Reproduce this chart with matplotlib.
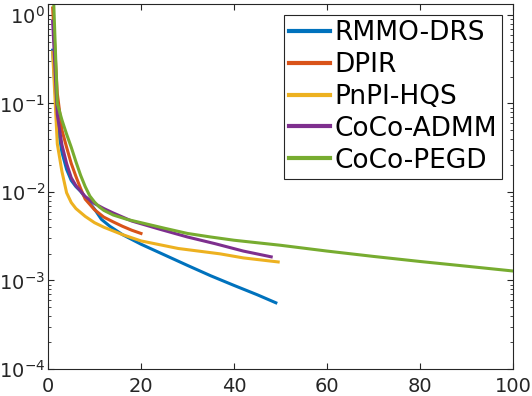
import matplotlib
matplotlib.use("Agg")
import matplotlib.pyplot as plt
import numpy as np

# iterations / residual values
rmmo_x = [1, 2, 3, 4, 5, 6, 7, 8, 10, 11.5, 13.3, 16, 20, 25, 30, 35, 40, 45, 49]
rmmo_y = [0.4, 0.06, 0.028, 0.018, 0.0135, 0.0115, 0.0102, 0.0087, 0.0064, 0.0049, 0.0041,
          0.0033, 0.00257, 0.00195, 0.00148, 0.00113, 0.00088, 0.00069, 0.00056]

dpir_x = [1, 2, 3, 4, 5, 6, 7, 8, 10, 12, 14, 16, 18, 20]
dpir_y = [1.2, 0.13, 0.05, 0.032, 0.021, 0.015, 0.011, 0.0083, 0.0063, 0.0052, 0.0046,
          0.0041, 0.0037, 0.0034]

pnpi_x = [1, 2, 3, 4, 5, 6, 8, 10, 12, 16, 20, 28, 37, 42, 49.5]
pnpi_y = [0.38, 0.035, 0.017, 0.0098, 0.0076, 0.0065, 0.0053, 0.0045, 0.0040, 0.0033,
          0.0028, 0.0023, 0.0020, 0.0018, 0.00162]

admm_x = [1, 2, 3, 4, 5, 6, 8, 10, 12, 14, 18, 24, 30, 36, 42, 48]
admm_y = [0.85, 0.075, 0.034, 0.021, 0.0145, 0.0118, 0.0089, 0.0074, 0.0065, 0.0058,
          0.0047, 0.0038, 0.0031, 0.0026, 0.00215, 0.00185]

pegd_x = [1, 2, 3, 4, 5, 6, 7, 8, 9, 10, 11, 12, 14, 17, 20, 25, 30, 35, 40, 50, 60, 70,
          80, 90, 100]
pegd_y = [3.0, 0.1, 0.065, 0.045, 0.032, 0.022, 0.0155, 0.0115, 0.009, 0.0077, 0.0068,
          0.0062, 0.0055, 0.0049, 0.0045, 0.0039, 0.0034, 0.0031, 0.00285, 0.0025, 0.00215,
          0.00187, 0.00164, 0.00145, 0.00128]

labels = ["RMMO-DRS", "DPIR", "PnPI-HQS", "CoCo-ADMM", "CoCo-PEGD"]
colors = ["#0072BD", "#D95319", "#EDB120", "#7E2F8E", "#77AC30"]
series = [(rmmo_x, rmmo_y), (dpir_x, dpir_y), (pnpi_x, pnpi_y),
          (admm_x, admm_y), (pegd_x, pegd_y)]

fig = plt.figure(figsize=(5.32, 3.96), dpi=100)
ax = fig.add_axes([48 / 532, 27 / 396, 465 / 532, 365 / 396])

for (xs, ys), lab, col in zip(series, labels, colors):
    ax.plot(xs, ys, color=col, linewidth=2.2, label=lab)

ax.set_yscale("log")
ax.set_xlim(0, 100)
ax.set_ylim(1e-4, 1.33)
ax.set_xticks([0, 20, 40, 60, 80, 100])
ax.set_yticks([1e-4, 1e-3, 1e-2, 1e-1, 1e0])

dark = "#262626"
for sp in ax.spines.values():
    sp.set_color(dark)
    sp.set_linewidth(0.8)
ax.tick_params(which="both", direction="in", top=True, right=True, colors=dark,
               labelsize=14, labelcolor=dark)
ax.tick_params(which="major", length=4)
ax.tick_params(which="minor", length=2.2)
ax.tick_params(axis="x", pad=6)
ax.tick_params(axis="y", pad=2)

leg = ax.legend(loc="upper right", bbox_to_anchor=(454 / 465, 354 / 365),
                borderaxespad=0, fontsize=19, handlelength=1.55, handletextpad=0.15,
                labelspacing=0.22, borderpad=0.2, fancybox=False, framealpha=1)
leg.get_frame().set_edgecolor(dark)
leg.get_frame().set_linewidth(0.8)
for line in leg.get_lines():
    line.set_linewidth(3)

fig.savefig("out.png", dpi=100)
